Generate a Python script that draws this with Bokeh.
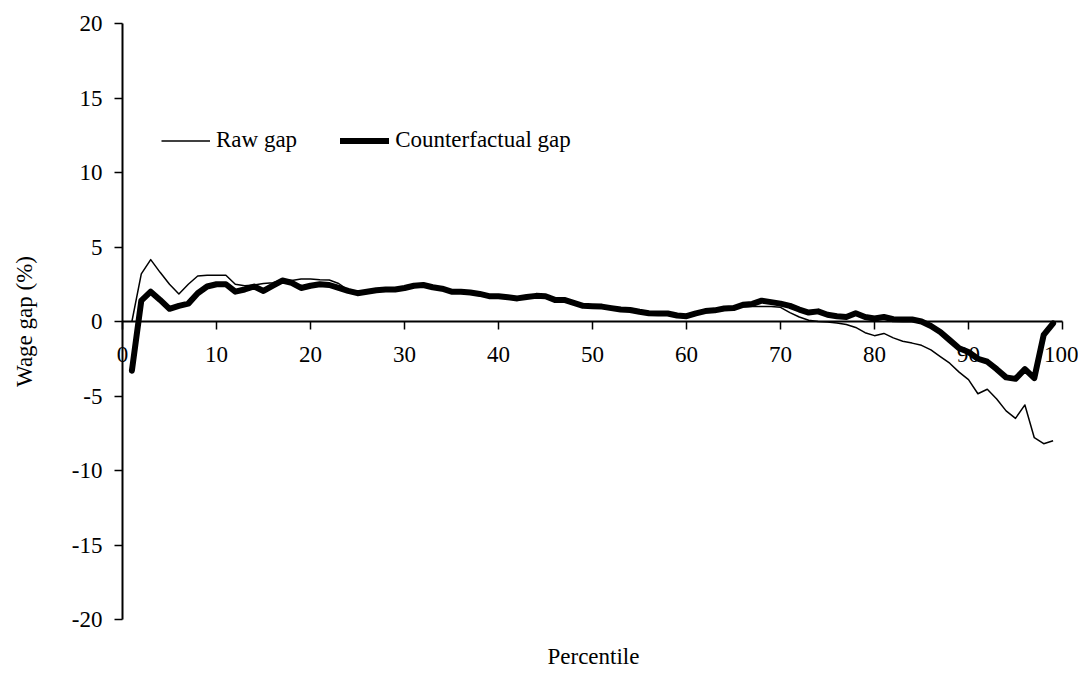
from bokeh.plotting import figure
from bokeh.models import LinearAxis, FixedTicker, Range1d, Legend, LegendItem, Title
from bokeh.embed import file_html
from bokeh.resources import INLINE

# ---------------- data ----------------
percentile = list(range(1, 100))

raw_gap = [
    0.0, 3.2, 4.15, 3.3, 2.5, 1.85, 2.5, 3.05, 3.1, 3.1,       # 1-10
    3.1, 2.5, 2.4, 2.45, 2.55, 2.6, 2.8, 2.75, 2.85, 2.85,     # 11-20
    2.8, 2.78, 2.55, 2.1, 1.9, 2.0, 2.1, 2.15, 2.15, 2.25,     # 21-30
    2.4, 2.45, 2.3, 2.2, 2.0, 2.0, 1.95, 1.85, 1.7, 1.7,       # 31-40
    1.63, 1.55, 1.65, 1.72, 1.7, 1.45, 1.45, 1.25, 1.05, 1.03,  # 41-50
    1.0, 0.9, 0.8, 0.77, 0.65, 0.55, 0.54, 0.54, 0.4, 0.36,    # 51-60
    0.55, 0.7, 0.75, 0.87, 0.95, 0.98, 1.0, 1.0, 1.0, 0.95,    # 61-70
    0.6, 0.3, 0.08, 0.0, -0.04, -0.1, -0.2, -0.4, -0.75, -0.95,  # 71-80
    -0.8, -1.1, -1.32, -1.45, -1.6, -1.9, -2.35, -2.8, -3.4, -3.9,  # 81-90
    -4.85, -4.55, -5.2, -6.0, -6.5, -5.6, -7.8, -8.2, -8.0,    # 91-99
]

counterfactual_gap = [
    -3.3, 1.4, 2.0, 1.45, 0.85, 1.05, 1.2, 1.9, 2.35, 2.5,     # 1-10
    2.5, 2.0, 2.15, 2.35, 2.05, 2.4, 2.75, 2.6, 2.25, 2.4,     # 11-20
    2.5, 2.45, 2.25, 2.05, 1.9, 2.0, 2.1, 2.15, 2.15, 2.25,    # 21-30
    2.4, 2.45, 2.3, 2.2, 2.0, 2.0, 1.95, 1.85, 1.7, 1.7,       # 31-40
    1.63, 1.55, 1.65, 1.72, 1.7, 1.45, 1.45, 1.25, 1.05, 1.03,  # 41-50
    1.0, 0.9, 0.8, 0.77, 0.65, 0.55, 0.54, 0.54, 0.4, 0.36,    # 51-60
    0.55, 0.7, 0.75, 0.87, 0.9, 1.12, 1.18, 1.4, 1.3, 1.2,     # 61-70
    1.05, 0.8, 0.6, 0.68, 0.45, 0.35, 0.3, 0.55, 0.3, 0.2,     # 71-80
    0.3, 0.15, 0.13, 0.13, 0.0, -0.3, -0.7, -1.25, -1.8, -2.05,  # 81-90
    -2.5, -2.7, -3.2, -3.75, -3.85, -3.2, -3.8, -0.9, -0.13,   # 91-99
]

x_ticks = [0, 10, 20, 30, 40, 50, 60, 70, 80, 90, 100]
y_ticks = [-20, -15, -10, -5, 0, 5, 10, 15, 20]

x_title = "Percentile"
y_title = "Wage gap (%)"
series_names = ["Raw gap", "Counterfactual gap"]

FONT = "Liberation Serif"
FS = "23px"

# layout: the frame covers almost the whole canvas so that the axes drawn
# at fixed locations (x = 0, y = 0) are not clipped
PX_X = 9.4     # pixels per percentile
PX_Y = 14.9    # pixels per wage-gap point
X0_FROM_LEFT = 117   # px from frame left to x = 0
X100_TO_RIGHT = 16   # px from x = 100 to frame right
Y20_FROM_TOP = 18
YM20_TO_BOTTOM = 20

x_lo, x_hi = x_ticks[0], x_ticks[-1]
y_lo, y_hi = y_ticks[0], y_ticks[-1]

p = figure(
    width=1078, height=672,
    x_range=Range1d(x_lo - X0_FROM_LEFT / PX_X, x_hi + X100_TO_RIGHT / PX_X),
    y_range=Range1d(y_lo - YM20_TO_BOTTOM / PX_Y, y_hi + Y20_FROM_TOP / PX_Y),
    output_backend="svg", toolbar_location=None,
    x_axis_location=None, y_axis_location=None,
    min_border_left=5, min_border_right=0,
    min_border_top=5, min_border_bottom=33,
)
p.grid.visible = False
p.outline_line_color = None
p.background_fill_color = "white"
p.border_fill_color = "white"

# y axis crossing at x = 0
ya = LinearAxis(
    fixed_location=0, bounds=(y_lo, y_hi),
    ticker=FixedTicker(ticks=y_ticks),
    major_label_overrides={t: str(t) for t in y_ticks},
    major_tick_out=8, major_tick_in=0,
    minor_tick_line_color=None,
    axis_line_width=2, major_tick_line_width=1.5,
    axis_line_color="black", major_tick_line_color="black",
    major_label_standoff=12,
    major_label_text_font=FONT, major_label_text_font_size=FS,
    major_label_text_color="black",
    axis_label=y_title, axis_label_text_font=FONT,
    axis_label_text_font_size=FS, axis_label_text_font_style="normal",
    axis_label_text_color="black", axis_label_standoff=32,
)
p.add_layout(ya, "left")

# x axis crossing at y = 0
xa = LinearAxis(
    fixed_location=0, bounds=(x_lo, x_hi),
    ticker=FixedTicker(ticks=x_ticks),
    major_label_overrides={t: str(t) for t in x_ticks},
    major_tick_out=8, major_tick_in=0,
    minor_tick_line_color=None,
    axis_line_width=2, major_tick_line_width=1.5,
    axis_line_color="black", major_tick_line_color="black",
    major_label_standoff=17,
    major_label_text_font=FONT, major_label_text_font_size=FS,
    major_label_text_color="black",
)
p.add_layout(xa, "below")

# x axis title, centred under the 0-100 span
p.add_layout(Title(text=x_title, align="left", offset=542, standoff=4,
                   text_font=FONT, text_font_size=FS,
                   text_font_style="normal", text_color="black"), "below")

# ---------------- series ----------------
r_raw = p.line(percentile, raw_gap, line_color="black", line_width=1.5,
               line_join="round")
r_cf = p.line(percentile, counterfactual_gap, line_color="black", line_width=6,
              line_join="round", line_cap="round")

legend = Legend(
    items=[LegendItem(label=series_names[0], renderers=[r_raw]),
           LegendItem(label=series_names[1], renderers=[r_cf])],
    orientation="horizontal",
    location=(156, 486),
    padding=0, margin=0, spacing=43,
    border_line_color=None, background_fill_alpha=0,
    glyph_width=49, glyph_height=23, label_height=23,
    label_standoff=6,
    label_text_font=FONT, label_text_font_size=FS, label_text_color="black",
)
p.add_layout(legend)

open("out.html", "w").write(file_html(p, INLINE))
